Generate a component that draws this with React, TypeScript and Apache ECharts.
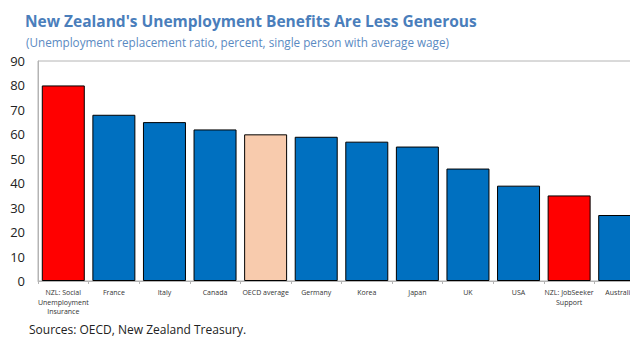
import React, { useEffect, useRef } from "react";
import * as echarts from "echarts";

const categories = [
  "NZL: Social\nUnemployment\nInsurance",
  "France",
  "Italy",
  "Canada",
  "OECD average",
  "Germany",
  "Korea",
  "Japan",
  "UK",
  "USA",
  "NZL: JobSeeker\nSupport",
  "Australia",
];
const values = [80, 68, 65, 62, 60, 59, 57, 55, 46, 39, 35, 27];
const barColors = [
  "#FF0000", "#0070C0", "#0070C0", "#0070C0", "#F8CBAD", "#0070C0",
  "#0070C0", "#0070C0", "#0070C0", "#0070C0", "#FF0000", "#0070C0",
];
const yTicks = [0, 10, 20, 30, 40, 50, 60, 70, 80, 90];

const title = "New Zealand's Unemployment Benefits Are Less Generous";
const subtitle = "(Unemployment replacement ratio, percent, single person with average wage)";
const source = "Sources: OECD, New Zealand Treasury.";

export default function App() {
  const ref = useRef<HTMLDivElement>(null);
  useEffect(() => {
    if (!ref.current) return;
    const chart = echarts.init(ref.current, null, { renderer: "svg" });
    const font = "'Open Sans', 'Noto Sans', sans-serif";
    chart.setOption({
      animation: false,
      textStyle: { fontFamily: font },
      title: [
        {
          text: title,
          left: 25,
          top: 13,
          padding: 0,
          textStyle: { fontSize: 15.5, lineHeight: 16, fontWeight: "bold", color: "#4A7EBB", fontFamily: font },
        },
        {
          text: subtitle,
          left: 26,
          top: 35,
          padding: 0,
          textStyle: { fontSize: 11.7, lineHeight: 13, fontWeight: "normal", color: "#5A8AC2", fontFamily: font },
        },
        {
          text: source,
          left: 29,
          top: 323,
          padding: 0,
          textStyle: { fontSize: 12, lineHeight: 13, fontWeight: "normal", color: "#222", fontFamily: font },
        },
      ],
      grid: {
        left: 38,
        top: 61,
        width: 607,
        bottom: 56,
        show: true,
        borderColor: "#b4b4b4",
        borderWidth: 1,
        containLabel: false,
        outerBoundsMode: "none",
      },
      xAxis: {
        type: "category",
        data: categories,
        axisLine: { show: true, lineStyle: { color: "#b4b4b4", width: 1 } },
        axisTick: { show: true, length: 3, lineStyle: { color: "#b4b4b4" } },
        axisLabel: {
          interval: 0,
          fontSize: 7,
          color: "#333",
          lineHeight: 9.5,
          margin: 7,
          fontFamily: font,
          hideOverlap: false,
        },
      },
      yAxis: {
        type: "value",
        min: yTicks[0],
        max: yTicks[yTicks.length - 1],
        interval: 10,
        axisLine: { show: true, lineStyle: { color: "#b4b4b4" } },
        axisTick: { show: false },
        splitLine: { show: false },
        axisLabel: { fontSize: 13, color: "#222", margin: 13, fontFamily: font },
      },
      series: [
        {
          type: "bar",
          barCategoryGap: "15%",
          data: values.map((v, i) => ({
            value: v,
            itemStyle: { color: barColors[i], borderColor: "#000", borderWidth: 1 },
          })),
        },
      ],
    });
    return () => chart.dispose();
  }, []);
  return (
    <div
      ref={ref}
      style={{ position: "absolute", left: 0, top: 0, width: 630, height: 337, overflow: "hidden" }}
    />
  );
}
